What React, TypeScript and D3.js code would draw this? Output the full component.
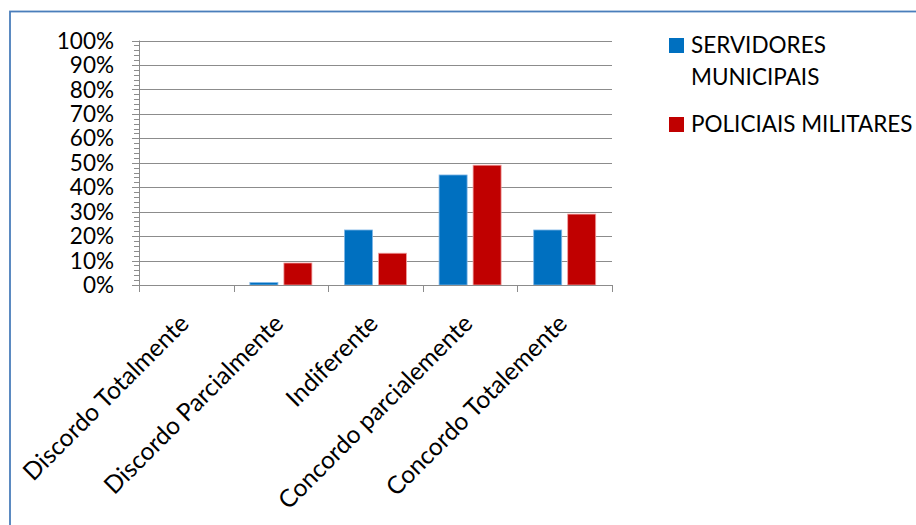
import React, { useEffect, useRef } from 'react';
import * as d3 from 'd3';

const categories = [
  'Discordo Totalmente',
  'Discordo Parcialmente',
  'Indiferente',
  'Concordo parcialemente',
  'Concordo Totalemente',
];
const servidores = [0, 1, 22.5, 45, 22.5];
const policiais = [0, 9, 13, 49, 29];
const seriesNames = ['SERVIDORES MUNICIPAIS', 'POLICIAIS MILITARES'];
const yTicks = [0, 10, 20, 30, 40, 50, 60, 70, 80, 90, 100];

const colors = ['#0070C0', '#C00000'];
const edges = ['#7fb6e6', '#f0a0a0'];
const font = 'Lato, "Open Sans", sans-serif';

function App() {
  const ref = useRef<SVGSVGElement>(null);

  useEffect(() => {
    const width = 916;
    const height = 525;
    const left = 139, right = 612, top = 40.5, bottom = 285;

    const svg = d3.select(ref.current);
    svg.selectAll('*').remove();
    svg.attr('width', width).attr('height', height);

    svg.append('rect')
      .attr('x', 10).attr('y', 11.5)
      .attr('width', width + 20).attr('height', height + 20)
      .attr('fill', 'white')
      .attr('stroke', '#4A7EBB')
      .attr('stroke-width', 1.8);

    const x = d3.scaleBand().domain(categories).range([left, right]);
    const xs = d3.scaleBand().domain(seriesNames)
      .range([0, x.bandwidth()])
      .paddingInner(0.176).paddingOuter(0.479);
    const y = d3.scaleLinear().domain([0, 100]).range([bottom, top]);

    // gridlines
    svg.append('g').selectAll('line')
      .data(yTicks.filter(t => t > 0))
      .enter().append('line')
      .attr('x1', left).attr('x2', right)
      .attr('y1', d => Math.round(y(d)) + 0.5).attr('y2', d => Math.round(y(d)) + 0.5)
      .attr('stroke', '#8c8c8c').attr('stroke-width', 1);

    // bars
    const data = [servidores, policiais];
    data.forEach((vals, si) => {
      const rows = vals.map((v, i) => ({ cat: categories[i], v })).filter(r => r.v > 0);
      svg.append('g').selectAll('rect')
        .data(rows)
        .enter().append('rect')
        .attr('x', d => (x(d.cat) as number) + (xs(seriesNames[si]) as number))
        .attr('y', d => y(d.v))
        .attr('width', xs.bandwidth())
        .attr('height', d => bottom - y(d.v))
        .attr('fill', colors[si])
        .attr('stroke', edges[si])
        .attr('stroke-width', 0.8);
    });

    // y axis line + ticks
    const ax = svg.append('g').attr('stroke', '#8c8c8c').attr('stroke-width', 1);
    ax.append('line')
      .attr('x1', left + 0.5).attr('x2', left + 0.5)
      .attr('y1', top).attr('y2', bottom + 6);
    const minor = d3.range(0, 101, 2);
    ax.selectAll('line.minor')
      .data(minor)
      .enter().append('line')
      .attr('class', 'minor')
      .attr('x1', d => (d % 10 === 0 ? left - 7 : left - 5)).attr('x2', left)
      .attr('y1', d => Math.round(y(d)) + 0.5).attr('y2', d => Math.round(y(d)) + 0.5);

    // x axis line + ticks
    ax.append('line')
      .attr('x1', left).attr('x2', right + 0.5)
      .attr('y1', bottom + 0.5).attr('y2', bottom + 0.5);
    const bounds = categories.map(c => x(c) as number).concat([right]);
    ax.selectAll('line.xt')
      .data(bounds)
      .enter().append('line')
      .attr('class', 'xt')
      .attr('x1', d => Math.round(d) + 0.5).attr('x2', d => Math.round(d) + 0.5)
      .attr('y1', bottom).attr('y2', bottom + 7);

    // y labels
    svg.append('g').selectAll('text')
      .data(yTicks)
      .enter().append('text')
      .attr('x', 114)
      .attr('y', d => y(d))
      .attr('dy', '0.36em')
      .attr('text-anchor', 'end')
      .attr('font-family', font)
      .attr('font-size', 22.5)
      .attr('fill', '#000')
      .text(d => d + '%');

    // category labels
    svg.append('g').selectAll('text')
      .data(categories)
      .enter().append('text')
      .attr('transform', d => `translate(${(x(d) as number) + x.bandwidth() / 2 + 4},${bottom + 40}) rotate(-45)`)
      .attr('text-anchor', 'end')
      .attr('font-family', font)
      .attr('font-size', 24.5)
      .attr('fill', '#000')
      .text(d => d);

    // legend
    const lg = svg.append('g').attr('font-family', font).attr('font-size', 22.5);
    lg.append('rect').attr('x', 669).attr('y', 38).attr('width', 15).attr('height', 15).attr('fill', colors[0]);
    lg.append('text').attr('x', 691).attr('y', 53).text('SERVIDORES');
    lg.append('text').attr('x', 691).attr('y', 85).text('MUNICIPAIS');
    lg.append('rect').attr('x', 669).attr('y', 117).attr('width', 15).attr('height', 15).attr('fill', colors[1]);
    lg.append('text').attr('x', 691).attr('y', 132).text(seriesNames[1]);
  }, []);

  return (
    <div>
      <svg ref={ref} style={{ position: 'absolute', left: 0, top: 0 }}></svg>
    </div>
  );
}

export default App;
